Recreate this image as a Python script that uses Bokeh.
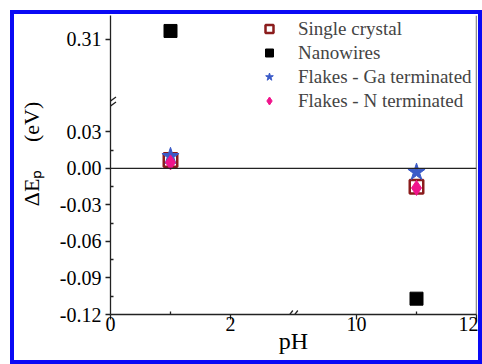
from bokeh.plotting import figure
from bokeh.models import (FixedTicker, Range1d, Span, Legend, LegendItem, Arrow,
                          CustomJSTickFormatter)
from bokeh.embed import file_html
from bokeh.resources import INLINE

# ---------------- data ----------------
ph = [1, 11]
single_crystal = [0.007, -0.015]
nanowires = [0.317, -0.107]
flakes_ga = [0.010, -0.003]
flakes_n = [0.005, -0.016]

x_major = [0, 2, 10, 12]
x_labels = ["0", "2", "10", "12"]
x_minor = [1, 11]
y_major = [0.31, 0.03, 0.00, -0.03, -0.06, -0.09, -0.12]
y_labels = ["0.31", "0.03", "0.00", "-0.03", "-0.06", "-0.09", "-0.12"]
y_minor = [0.015, -0.015, -0.045, -0.075, -0.105]

# broken-axis transforms
X_SHIFT = 5.9      # pH >= 9 shifted left
Y_SHIFT = 0.204    # values >= 0.2 shifted down
X_BREAK = 3.03
Y_BREAK = 0.0534


def tx(x):
    return x if x < 6 else round(x - X_SHIFT, 6)


def ty(y):
    return y if y < 0.2 else round(y - Y_SHIFT, 6)


AX = "#222222"
FONT = "serif"
NB = "\u00a0"
JS = """
for (let i = 0; i < pos.length; i++) {
  if (Math.abs(tick - pos[i]) < 1e-9) return labs[i];
}
return "";
"""

p = figure(width=464, height=346, output_backend="svg", toolbar_location=None,
           x_range=Range1d(0, 6.1), y_range=Range1d(-0.12, 0.1257),
           min_border_left=96, min_border_right=2, min_border_top=1,
           min_border_bottom=46)
p.styles = {"margin-left": "14px", "margin-top": "14px",
            "box-shadow": "0 0 0 4px #0a0af5"}
p.outline_line_color = None
p.xgrid.visible = False
p.ygrid.visible = False
p.background_fill_color = "white"
p.border_fill_color = "white"

xa = p.xaxis[0]
xpos = [tx(v) for v in x_major]
xa.ticker = FixedTicker(ticks=xpos, minor_ticks=[tx(v) for v in x_minor])
xa.formatter = CustomJSTickFormatter(args=dict(pos=xpos, labs=x_labels), code=JS)
ya = p.yaxis[0]
ypos = [ty(v) for v in y_major]
ya.ticker = FixedTicker(ticks=ypos, minor_ticks=[ty(v) for v in y_minor])
ya.formatter = CustomJSTickFormatter(args=dict(pos=ypos, labs=y_labels), code=JS)
for a in (xa, ya):
    a.axis_line_color = AX
    a.axis_line_width = 1.3
    a.major_tick_line_color = AX
    a.major_tick_line_width = 1.3
    a.minor_tick_line_color = AX
    a.minor_tick_line_width = 1.3
    a.major_tick_in = 0
    a.major_tick_out = 5
    a.minor_tick_in = 3
    a.minor_tick_out = 0
    a.major_label_text_font = FONT
    a.major_label_text_font_size = "20px"
    a.major_label_text_color = "black"
    a.axis_label_text_font = FONT
    a.axis_label_text_font_style = "normal"
    a.axis_label_text_color = "black"
xa.major_label_standoff = -3
ya.major_label_standoff = 4
ya.axis_label = NB * 4 + "ΔEₚ" + NB * 5 + "(eV)"
ya.axis_label_text_font_size = "22px"
ya.axis_label_standoff = 13
xa.axis_label = "pH"
xa.axis_label_text_font_size = "24px"
xa.axis_label_standoff = -6

# right frame line and zero line
p.add_layout(Span(location=tx(12), dimension="height", line_color=AX, line_width=1.3))
p.add_layout(Span(location=0, dimension="width", line_color=AX, line_width=1.2))

xs = [tx(v) for v in ph]
sc = p.scatter(xs, [ty(v) for v in single_crystal], marker="square", size=13.5,
               fill_color=None, line_color="#8b1c1c", line_width=2.5)
nw = p.scatter(xs, [ty(v) for v in nanowires], marker="square", size=13,
               fill_color="black", line_color="black")
ga = p.scatter(xs, [ty(v) for v in flakes_ga], marker="star", size=18,
               fill_color="#3b5bc8", line_color="#3b5bc8")
nt = p.scatter(xs, [ty(v) for v in flakes_n], marker="diamond", size=15,
               fill_color="#f0148c", line_color="#f0148c")

legend = Legend(items=[LegendItem(label="Single crystal", renderers=[sc]),
                       LegendItem(label="Nanowires", renderers=[nw]),
                       LegendItem(label="Flakes - Ga terminated", renderers=[ga]),
                       LegendItem(label="Flakes - N terminated", renderers=[nt])],
                location=(149, 202), border_line_color=None, background_fill_alpha=0,
                label_text_font=FONT, label_text_font_size="19px",
                glyph_width=20, glyph_height=23, label_height=23, label_standoff=19,
                spacing=1, padding=0, margin=0)
p.add_layout(legend)

# break marks
PXU = 366 / 6.1
PXV = 299 / 0.2457
for off in (-2.5, 2.5):
    p.add_layout(Arrow(end=None, x_start=-5.5 / PXU, y_start=Y_BREAK + (off - 4) / PXV,
                       x_end=5.5 / PXU, y_end=Y_BREAK + (off + 4) / PXV,
                       line_color=AX, line_width=1.3))
    p.add_layout(Arrow(end=None, x_start=X_BREAK + (off - 3) / PXU, y_start=-0.12 - 4 / PXV,
                       x_end=X_BREAK + (off + 3) / PXU, y_end=-0.12 + 4 / PXV,
                       line_color=AX, line_width=1.3))

open("out.html", "w").write(file_html(p, INLINE))
